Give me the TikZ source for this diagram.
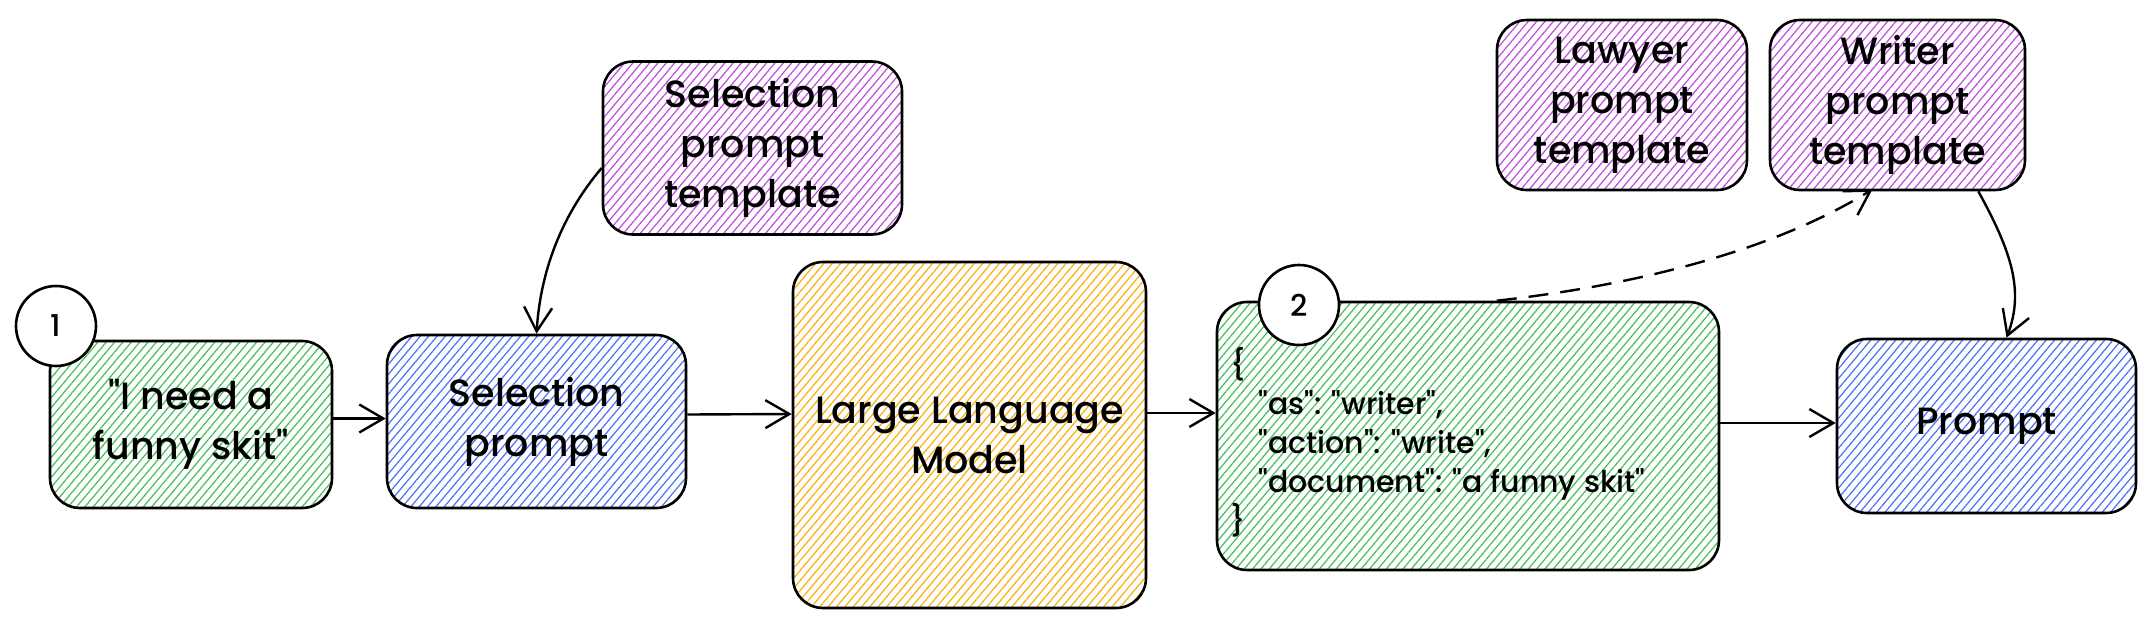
\documentclass[tikz,border=0pt]{standalone}
\usepackage{fontspec}
\newfontfamily\hand{Poppins Medium}
\usetikzlibrary{patterns.meta,arrows.meta,calc}
\definecolor{xgreen}{HTML}{40C057}
\definecolor{xblue}{HTML}{4C6EF5}
\definecolor{xpurple}{HTML}{BE4BDB}
\definecolor{xorange}{HTML}{FAB005}
\tikzset{
  box/.style={draw=black, line width=1.3pt, rounded corners=15pt, inner sep=0pt, align=center,
    pattern={Lines[angle=50,distance=3.2pt,line width=0.6pt]}, pattern color=#1,
    font=\hand\fontsize{19pt}{25pt}\selectfont},
  numcirc/.style={circle, draw=black, fill=white, line width=1.3pt, minimum size=40pt, inner sep=0pt,
    font=\hand\fontsize{15pt}{17pt}\selectfont},
  arr/.style={line width=1.2pt, -{Straight Barb[length=12pt,width=14pt,line width=1.2pt]}},
  jsontxt/.style={anchor=west, align=left, inner sep=0pt, font=\hand\fontsize{15pt}{19.5pt}\selectfont},
}
\begin{document}
\begin{tikzpicture}[x=0.5pt,y=-0.5pt]
\fill[white] (0,0) rectangle (2154,628);
\useasboundingbox (0,0) rectangle (2154,628);

\node[box=xgreen, minimum width=141pt, minimum height=83.5pt] (g1) at (191,424.5) {"I need a\\funny skit"};
\node[box=xblue, minimum width=149.5pt, minimum height=86.5pt] (sp) at (536.5,421.5) {Selection\\prompt};
\node[box=xpurple, minimum width=149.5pt, minimum height=86.5pt] (spt) at (752.5,148) {Selection\\prompt\\template};
\node[box=xorange, minimum width=176.5pt, minimum height=173pt] (llm) at (969.5,435) {Large Language\\Model};
\node[box=xgreen, minimum width=251pt, minimum height=134pt] (json) at (1468,436) {};
\node[jsontxt] (jt) at (1230,442) {\{\\\hspace*{14pt}"as": "writer",\\\hspace*{14pt}"action": "write",\\\hspace*{14pt}"document": "a funny skit"\\\}};
\node[box=xblue, minimum width=149.5pt, minimum height=87pt] (prompt) at (1986.5,426) {Prompt};
\node[box=xpurple, minimum width=125pt, minimum height=85pt] (lawyer) at (1622,105) {Lawyer\\prompt\\template};
\node[box=xpurple, minimum width=127.5pt, minimum height=85pt] (writer) at (1897.5,105) {Writer\\prompt\\template};

\draw[arr] ($(g1.east)+(0,-6)$) -- ($(sp.west)+(0,-3)$);
\draw[arr] ($(sp.east)+(0,-7)$) -- ($(llm.west)+(0,-21)$);
\draw[arr] ($(llm.east)+(0,-22)$) -- ($(json.west)+(0,-23)$);
\draw[arr] ($(json.east)+(0,-13)$) -- ($(prompt.west)+(0,-3)$);
\draw[arr] ($(spt.west)+(0,20)$) .. controls +(-40,47) and +(4,-63) .. (sp.north);
\draw[arr, dash pattern=on 10pt off 6pt] ($(json.north west)!0.557!(json.north east)$) .. controls +(153,-17) and +(-92,57) .. ($(writer.south)+(-25,-2)$);
\draw[arr] ($(writer.south east)+(-48,0)$) .. controls +(33,60) and +(18,-47) .. ($(prompt.north)+(20,0)$);

\node[numcirc] (c1) at (56,326) {1};
\node[numcirc] (c2) at (1299,305) {2};
\end{tikzpicture}
\end{document}
